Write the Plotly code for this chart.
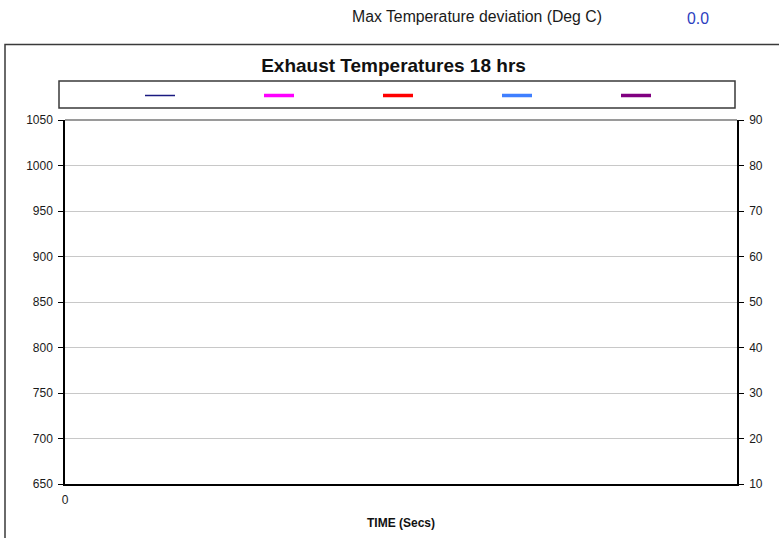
import plotly.graph_objects as go

# Exhaust temperature series (no readings logged yet: a single empty sample)
time_secs = [0]
series_names = ["", "", "", "", ""]
series_colors = ["#1a1a80", "#ff00ff", "#ff0000", "#3f7fff", "#800080"]
series_widths = [1.5, 3.5, 3.5, 3.5, 3.5]
series_values = [[None], [None], [None], [None], [None]]

left_ticks = [650, 700, 750, 800, 850, 900, 950, 1000, 1050]
right_ticks = [10, 20, 30, 40, 50, 60, 70, 80, 90]
x_ticks = [0]
max_deviation = 0.0

W, H = 779, 538
L, R, T, B = 65, 737, 120, 484


def px(x):
    return (x - L) / (R - L)


def py(y):
    return (B - y) / (B - T)


fig = go.Figure()
for name, color, width, vals in zip(series_names, series_colors, series_widths, series_values):
    fig.add_trace(go.Scatter(x=time_secs, y=vals, name=name, mode="lines",
                             line=dict(color=color, width=width), showlegend=True,
                             connectgaps=False))
fig.add_trace(go.Scatter(x=time_secs, y=[None], yaxis="y2", mode="lines", showlegend=False,
                         hoverinfo="skip"))

tick_font = dict(family="Liberation Sans, Arial, sans-serif", size=12, color="#1a1a1a")

fig.update_layout(
    width=W, height=H,
    margin=dict(l=L, r=W - R, t=T, b=H - B, pad=0),
    paper_bgcolor="white", plot_bgcolor="white",
    font=dict(family="Liberation Sans, Arial, sans-serif", color="#1a1a1a"),
    title=dict(text="<b>Exhaust Temperatures 18 hrs</b>", x=393.5 / W, xanchor="center",
               y=1 - 65 / H, yanchor="middle", yref="container",
               font=dict(size=19, color="#111111")),
    showlegend=True,
    legend=dict(orientation="h", x=px(140), xanchor="left", y=py(95.5), yanchor="middle",
                entrywidth=74, entrywidthmode="pixels", bgcolor="rgba(0,0,0,0)",
                borderwidth=0, font=dict(size=1), itemclick=False, itemdoubleclick=False),
    xaxis=dict(range=[0, 100], tickvals=x_ticks, ticktext=[str(v) for v in x_ticks],
               ticks="", showgrid=False, zeroline=False, showline=True, linecolor="black",
               linewidth=2, tickfont=tick_font, ticklabelstandoff=4, automargin=False,
               title=dict(text="<b>TIME (Secs)</b>", font=dict(size=12, color="#111111"),
                          standoff=12)),
    yaxis=dict(range=[650, 1050], tickvals=left_ticks, ticks="outside", ticklen=5,
               tickcolor="black", showline=True, linecolor="black", linewidth=1.5,
               showgrid=True, gridcolor="#c8c8c8", gridwidth=1, zeroline=False,
               tickfont=tick_font, ticklabelstandoff=3, automargin=False),
    yaxis2=dict(range=[10, 90], tickvals=right_ticks, overlaying="y", side="right",
                ticks="outside", ticklen=5, tickcolor="black", showline=True,
                linecolor="black", linewidth=1.5, showgrid=False, zeroline=False,
                tickfont=tick_font, ticklabelstandoff=3, automargin=False),
)

# outer chart frame, legend frame and top plot edge
fig.add_shape(type="rect", xref="paper", yref="paper", x0=px(5), x1=px(800),
              y0=py(560), y1=py(44.5), line=dict(color="#3a3a3a", width=1.5),
              fillcolor="rgba(0,0,0,0)", layer="below")
fig.add_shape(type="rect", xref="paper", yref="paper", x0=px(59), x1=px(735),
              y0=py(108), y1=py(81), line=dict(color="#3a3a3a", width=1.5),
              fillcolor="rgba(0,0,0,0)", layer="below")
fig.add_shape(type="line", xref="paper", yref="paper", x0=0, x1=1, y0=1, y1=1,
              line=dict(color="#9a9a9a", width=2))

fig.add_annotation(text="Max Temperature deviation (Deg C)", xref="paper", yref="paper",
                   x=px(477), y=py(17), showarrow=False, xanchor="center", yanchor="middle",
                   font=dict(size=15.8, color="#1a1a1a"))
fig.add_annotation(text=f"{max_deviation:.1f}", xref="paper", yref="paper",
                   x=px(698), y=py(18), showarrow=False, xanchor="center", yanchor="middle",
                   font=dict(size=15.8, color="#2d3fbf"))

fig.write_html("out.html")
